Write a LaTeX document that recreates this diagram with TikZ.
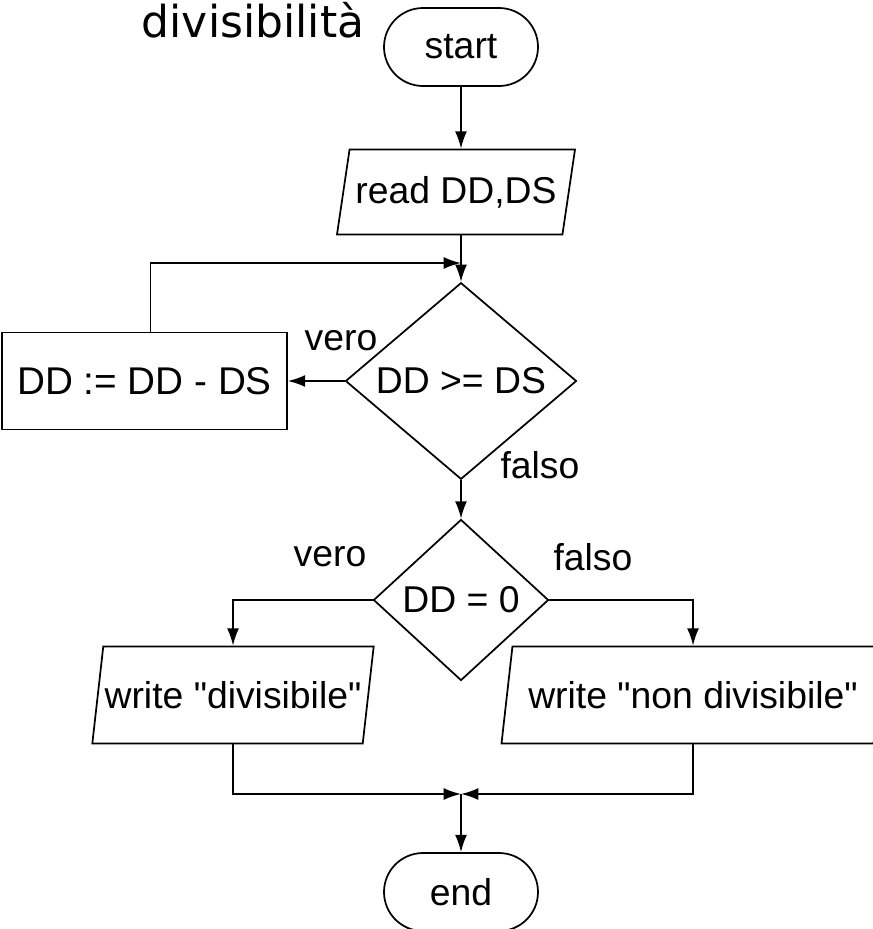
\documentclass[tikz,border=0pt]{standalone}
\usepackage{fontspec}
\setmainfont{Liberation Sans}[Ligatures=TeXOff]
\newfontfamily\titlefont{DejaVu Sans}
\usetikzlibrary{positioning,shapes.geometric,shapes.misc,arrows.meta}

\begin{document}
\begin{tikzpicture}[x=0.75pt, y=0.75pt, line width=1.3pt, font=\fontsize{28}{33}\selectfont,
    arr/.style={-{Latex[length=13pt,width=9pt]}}]
    \tikzstyle{term}=[rounded rectangle, draw, minimum width=115.5pt, minimum height=58.5pt, inner sep=0pt]
    \tikzstyle{io}=[trapezium, trapezium left angle=70, trapezium right angle=110, trapezium stretches body, draw, minimum height=72.75pt, inner sep=1pt]
    \tikzstyle{test}=[diamond, draw, inner sep=0pt]
    \tikzstyle{proc}=[rectangle, draw, minimum width=213.75pt, minimum height=72.75pt]
    \tikzstyle{lbl}=[inner sep=0pt]

    \useasboundingbox (0,0) rectangle (873,-929);

    \node[lbl, anchor=base, font=\titlefont\fontsize{33}{38}\selectfont] (title) at (253,-37) {divisibilità};
    \node[term] (start) at (461,-47) {start};
    \node[io, minimum height=63.75pt, minimum width=178.5pt] (read) at (456,-192) {read DD,DS};
    \node[test, minimum width=173.25pt, minimum height=117.75pt] (cmp) at (461,-381) {DD >= DS};
    \node[proc, font=\fontsize{29}{34}\selectfont] (sub) at (144.5,-381) {DD := DD - DS};
    \node[test, minimum width=131.25pt, minimum height=120.75pt] (zero) at (461,-600) {DD = 0};
    \node[io, minimum width=195pt] (yes) at (233,-695) {write "divisibile"};
    \node[io, minimum width=287.25pt] (no) at (693,-695) {write "non divisibile"};
    \node[term] (end) at (461,-892) {end};

    \node[lbl] (vero1) at (341,-341) {vero};
    \node[lbl] (falso1) at (540,-465) {falso};
    \node[lbl] (vero2) at (330,-557) {vero};
    \node[lbl] (falso2) at (593,-557) {falso};

    \coordinate (loop) at (461,-263);
    \coordinate (merge) at (461,-794);

    \draw[arr] (start.south) -- (start.south |- read.north);
    \draw[arr] (read.south -| cmp.north) -- (cmp.north);
    \draw[arr] ([xshift=4.5pt]sub.north) |- (loop);
    \draw[arr] (cmp.west) -- (sub.east);
    \draw[arr] (cmp.south) -- (zero.north);
    \draw[arr] (zero.west) -| (yes.north);
    \draw[arr] (zero.east) -| (no.north);
    \draw[arr] (yes.south) |- (merge);
    \draw[arr] (no.south) |- (merge);
    \draw[arr] (merge) -- (end.north);
\end{tikzpicture}
\end{document}
